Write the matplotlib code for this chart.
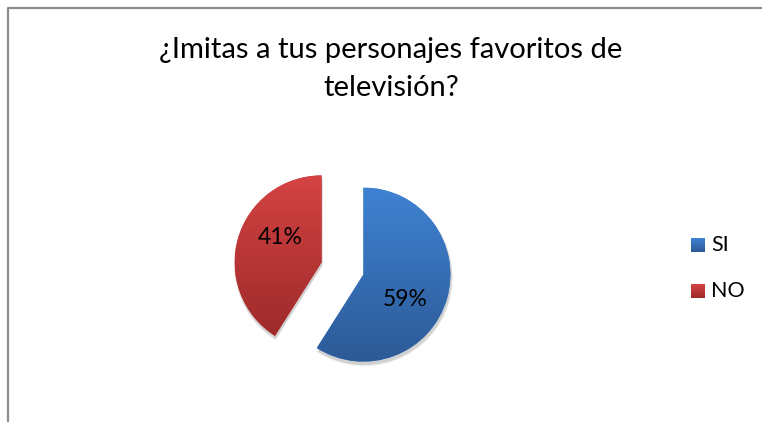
import numpy as np
import matplotlib.pyplot as plt
from matplotlib.colors import LinearSegmentedColormap
from matplotlib.patches import Rectangle

W, H = 762, 422

title = '¿Imitas a tus personajes favoritos de\ntelevisión?'
labels = ['SI', 'NO']
values = [59, 41]
top_colors = ['#3F82D2', '#D44343']
bottom_colors = ['#2C5A96', '#9E2A2A']

FONT = ['Lato', 'DejaVu Sans']


def gradient_fill(ax, wedge, top, bottom):
    bb = wedge.get_path().get_extents(wedge.get_transform())
    inv = ax.transData.inverted()
    (x0, y0), (x1, y1) = inv.transform([[bb.x0, bb.y0], [bb.x1, bb.y1]])
    grad = np.linspace(0, 1, 256).reshape(-1, 1)
    cmap = LinearSegmentedColormap.from_list('g', [top, bottom])
    im = ax.imshow(grad, cmap=cmap, extent=[x0, x1, y0, y1], origin='upper',
                   aspect='auto', zorder=2)
    im.set_clip_path(wedge)


fig = plt.figure(figsize=(W / 100, H / 100), dpi=100)
fig.patch.set_facecolor('white')
ax = fig.add_axes([0, 0, 1, 1])
ax.set_xlim(0, W)
ax.set_ylim(0, H)
ax.set_aspect('equal')
ax.axis('off')

# chart border (left and top visible)
ax.plot([8, 8, W + 5], [-5, H - 8, H - 8], color='#8C8C8C', lw=1.6, zorder=1)

center = (342.5, H - 268.5)
radius = 87
explode = [0.25 * radius, 0.25 * radius]

# soft shadow
for k in range(6):
    ax.pie(values, explode=explode, startangle=90, counterclock=False,
           radius=radius + 2.0 * k / 6, center=(center[0] + 1, center[1] - 3),
           colors=['#000000'] * 2, frame=True,
           wedgeprops=dict(alpha=0.03, linewidth=0))

wedges, texts, autotexts = ax.pie(values, explode=explode, startangle=90,
                                  counterclock=False, radius=radius, center=center,
                                  colors=top_colors,
                                  autopct=lambda p: '%d%%' % round(p),
                                  pctdistance=0.56, frame=True,
                                  wedgeprops=dict(linewidth=0),
                                  textprops=dict(fontsize=16.5, family=FONT, color='black'))
ax.set_xlim(0, W)
ax.set_ylim(0, H)
ax.axis('off')

for w, t, b in zip(wedges, top_colors, bottom_colors):
    w.set_zorder(2)
    gradient_fill(ax, w, t, b)

# nudge percent labels clockwise a little, like the original
for w, at in zip(wedges, autotexts):
    cx, cy = w.center
    x, y = at.get_position()
    a = np.deg2rad(-15)
    dx, dy = x - cx, y - cy
    at.set_position((cx + dx * np.cos(a) - dy * np.sin(a),
                     cy + dx * np.sin(a) + dy * np.cos(a)))
    at.set_zorder(5)

ax.text(391, H - 69, title, ha='center', va='center', fontsize=21,
        family=FONT, linespacing=1.6, color='black')

# legend
for i, (lab, t, b) in enumerate(zip(labels, top_colors, bottom_colors)):
    yc = H - 245 - 46 * i
    sq = Rectangle((691, yc - 7), 14, 14, facecolor=t, edgecolor='none', zorder=3)
    ax.add_patch(sq)
    g = np.linspace(0, 1, 32).reshape(-1, 1)
    im = ax.imshow(g, cmap=LinearSegmentedColormap.from_list('l', [t, b]),
                   extent=[691, 705, yc - 7, yc + 7], origin='upper', aspect='auto', zorder=3)
    im.set_clip_path(sq)
    ax.text(711, yc, lab, ha='left', va='center', fontsize=15.5, family=FONT)

ax.set_xlim(0, W)
ax.set_ylim(0, H)
fig.savefig('out.png', dpi=100)
